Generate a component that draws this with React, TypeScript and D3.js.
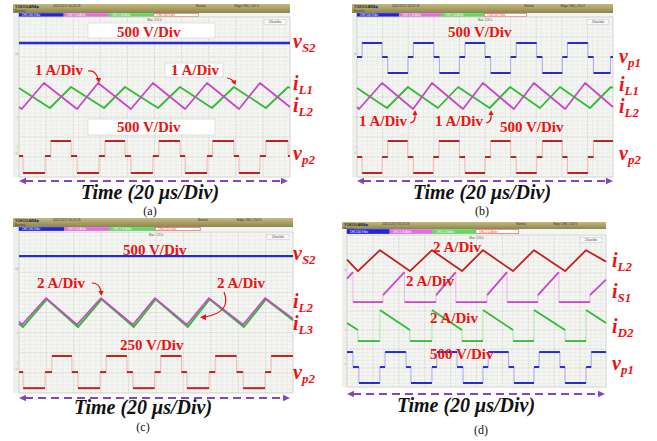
import React from 'react';
import * as d3 from 'd3';

type Pt = [number, number];

// ---------- data (x in divisions 0..10, y in divisions -4..4) ----------
// Panel (a)
const A_VS2: Pt[] = [[0, 2.7], [10, 2.7]];
const A_IL1: Pt[] = [[0, -0.5], [0.1, -0.6], [0.92, 0.7], [2.14, -0.6], [2.92, 0.7], [4.13, -0.6], [4.94, 0.7], [6.13, -0.6], [6.94, 0.7], [8.12, -0.6], [8.89, 0.7], [10, -0.5]];
const A_IL2: Pt[] = [[0, 0.45], [1.14, -0.55], [1.92, 0.5], [3.14, -0.55], [3.91, 0.5], [5.13, -0.55], [5.94, 0.5], [7.12, -0.55], [7.93, 0.5], [9.11, -0.55], [9.93, 0.5], [10, 0.45]];
const A_VP2_STEPS: Pt[] = [[0, -2.95], [0.15, -3.8], [0.96, -2.95], [1.17, -2.2], [1.92, -2.95], [2.14, -3.8], [2.95, -2.95], [3.17, -2.2], [3.91, -2.95], [4.13, -3.8], [4.94, -2.95], [5.16, -2.2], [5.94, -2.95], [6.13, -3.8], [6.94, -2.95], [7.14, -2.2], [7.93, -2.95], [8.12, -3.8], [8.89, -2.95], [9.11, -2.2], [9.93, -2.95]];

// Panel (b)
const B_VP1_STEPS: Pt[] = [[0, 2.0], [0.2, 2.7], [0.98, 2.0], [1.2, 1.2], [1.99, 2.0], [2.2, 2.7], [3.0, 2.0], [3.22, 1.2], [4.0, 2.0], [4.22, 2.7], [5.0, 2.0], [5.22, 1.2], [6.0, 2.0], [6.22, 2.7], [7.02, 2.0], [7.24, 1.2], [8.02, 2.0], [8.22, 2.7], [9.02, 2.0], [9.24, 1.2], [9.9, 2.0]];
const B_IL1: Pt[] = [[0, -0.5], [0.08, -0.6], [0.98, 0.7], [2.19, -0.6], [2.93, 0.7], [4.14, -0.6], [4.92, 0.7], [6.13, -0.6], [6.91, 0.7], [8.13, -0.6], [8.91, 0.7], [10, -0.5]];
const B_IL2: Pt[] = [[0, 0.45], [1.17, -0.55], [1.99, 0.5], [3.16, -0.55], [3.95, 0.5], [5.18, -0.55], [5.98, 0.5], [7.15, -0.55], [7.93, 0.5], [9.1, -0.55], [9.92, 0.5], [10, 0.45]];
const B_VP2_STEPS: Pt[] = [[0, -3.0], [0.2, -3.8], [0.98, -3.0], [1.2, -2.2], [1.98, -3.0], [2.2, -3.8], [2.98, -3.0], [3.2, -2.2], [4.0, -3.0], [4.22, -3.8], [5.0, -3.0], [5.22, -2.2], [6.0, -3.0], [6.22, -3.8], [7.02, -3.0], [7.24, -2.2], [8.02, -3.0], [8.22, -3.8], [9.02, -3.0], [9.24, -2.2]];

// Panel (c)
const C_VS2: Pt[] = [[0, 2.8], [10, 2.8]];
const C_IL2: Pt[] = [[0, -0.45], [0.11, -0.6], [0.99, 0.72], [2.12, -0.6], [2.99, 0.72], [4.16, -0.6], [4.96, 0.72], [6.13, -0.6], [6.93, 0.72], [8.18, -0.6], [8.98, 0.72], [10, -0.3]];
const C_IL3: Pt[] = [[0, -0.55], [0.14, -0.72], [1.02, 0.66], [2.15, -0.72], [3.02, 0.66], [4.19, -0.72], [4.99, 0.66], [6.16, -0.72], [6.96, 0.66], [8.21, -0.72], [9.01, 0.66], [10, -0.38]];
const C_VP2_STEPS: Pt[] = [[0, -2.96], [0.15, -3.76], [0.95, -2.96], [1.2, -2.16], [1.93, -2.96], [2.15, -3.76], [2.96, -2.96], [3.18, -2.16], [3.94, -2.96], [4.16, -3.76], [4.95, -2.96], [5.17, -2.16], [5.93, -2.96], [6.13, -3.76], [6.94, -2.96], [7.16, -2.16], [7.94, -2.96], [8.18, -3.76], [8.98, -2.96], [9.2, -2.16]];

// Panel (d)
const D_IL2: Pt[] = [[0, 2.7], [0.42, 2.1], [1.27, 3.2], [2.43, 2.1], [3.28, 3.2], [4.44, 2.1], [5.25, 3.2], [6.41, 2.1], [7.22, 3.2], [8.42, 2.1], [9.23, 3.2], [10, 2.6]];
const D_IS1: Pt[] = [[0, 1.7], [0.23, 2.05], [0.23, 0.47], [1.39, 0.47], [1.39, 0.84], [2.22, 2.05], [2.22, 0.47], [3.44, 0.47], [3.44, 0.84], [4.2, 2.05], [4.2, 0.47], [5.41, 0.47], [5.41, 0.84], [6.18, 2.05], [6.18, 0.47], [7.37, 0.47], [7.37, 0.84], [8.18, 2.05], [8.18, 0.47], [9.38, 0.47], [9.38, 0.84], [10, 1.65]];
const D_ID2: Pt[] = [[0, -0.63], [0.42, -1.0], [0.42, -1.58], [1.27, -1.58], [1.27, 0.05], [2.43, -1.0], [2.43, -1.58], [3.28, -1.58], [3.28, 0.05], [4.44, -1.0], [4.44, -1.58], [5.25, -1.58], [5.25, 0.05], [6.41, -1.0], [6.41, -1.58], [7.22, -1.58], [7.22, 0.05], [8.42, -1.0], [8.42, -1.58], [9.23, -1.58], [9.23, 0.05], [10, -0.63]];
const D_VP1_STEPS: Pt[] = [[0, -2.16], [0.23, -2.95], [0.46, -3.79], [1.27, -2.95], [1.47, -2.16], [2.28, -2.95], [2.47, -3.79], [3.28, -2.95], [3.47, -2.16], [4.25, -2.95], [4.48, -3.79], [5.25, -2.95], [5.45, -2.16], [6.24, -2.95], [6.45, -3.79], [7.22, -2.95], [7.42, -2.16], [8.22, -2.95], [8.42, -3.79], [9.23, -2.95], [9.43, -2.16]];

const TIME_LABEL = 'Time (20 μs/Div)';
const CAPTIONS = ['(a)', '(b)', '(c)', '(d)'];

// ---------- helpers ----------
function steps(s: Pt[]): Pt[] {
  const out: Pt[] = [];
  for (let i = 0; i < s.length; i++) {
    out.push([s[i][0], s[i][1]]);
    const nx = i + 1 < s.length ? s[i + 1][0] : 10;
    out.push([nx, s[i][1]]);
  }
  return out;
}

interface Frame {
  hx0: number; hx1: number; hy0: number; hy1: number; ry1: number;
  gx0: number; gx1: number; gy0: number; gy1: number;
  ay: number; ax0: number; ax1: number; tx: number; ty: number; cx: number; cy: number;
}

interface Trace { pts: Pt[]; color: string; faint: string; w: number; }

const SERIF = '"Liberation Serif", "Times New Roman", serif';
const RED = '#ee1111';

function TraceView({ t, x, y }: { t: Trace; x: any; y: any }) {
  const runs: Pt[][] = [];
  const faint: [Pt, Pt][] = [];
  let run: Pt[] = [t.pts[0]];
  for (let i = 1; i < t.pts.length; i++) {
    const p = t.pts[i], q = t.pts[i - 1];
    if (Math.abs(p[0] - q[0]) < 1e-9 && Math.abs(p[1] - q[1]) > 1e-9) {
      faint.push([q, p]);
      if (run.length > 1) runs.push(run);
      run = [p];
    } else if (Math.abs(p[0] - q[0]) < 1e-9) {
      continue;
    } else run.push(p);
  }
  if (run.length > 1) runs.push(run);
  const line = d3.line<Pt>().x(d => x(d[0])).y(d => y(d[1]));
  return (
    <g>
      {faint.map((s, i) => (
        <line key={'f' + i} x1={x(s[0][0])} x2={x(s[1][0])} y1={y(s[0][1])} y2={y(s[1][1])} stroke={t.faint} strokeWidth={1} />
      ))}
      {runs.map((r, i) => (
        <path key={'r' + i} d={line(r) || ''} fill="none" stroke={t.color} strokeWidth={t.w} strokeLinejoin="round" />
      ))}
    </g>
  );
}

function Scope({ f, traces, boxes, idx }: { f: Frame; traces: Trace[]; boxes: string[]; idx: number }) {
  const x = d3.scaleLinear().domain([0, 10]).range([f.gx0, f.gx1]);
  const y = d3.scaleLinear().domain([4, -4]).range([f.gy0, f.gy1]);
  const minorX = d3.range(0, 50).map(i => i / 5);
  const minorY = d3.range(0, 40).map(i => -4 + i / 5);
  const majorX = d3.range(1, 10);
  const majorY = d3.range(-3, 4);
  const bw = (f.gx1 - f.gx0) / 6.1;
  const boxFill = ['#2424e0', '#e070e0', '#66d466', '#ffffff'];
  const boxStroke = ['#2424e0', '#e070e0', '#66d466', '#e04848'];
  const boxText = ['#ffffff', '#ffffff', '#ffffff', '#e04848'];
  const chY = [2.1, -1.05, -2.55, -2.85];
  const hw = f.hx1 - f.hx0;
  return (
    <g>
      <defs>
        <linearGradient id={'hdr' + idx} x1="0" x2="0" y1="0" y2="1">
          <stop offset="0" stopColor="#c4ba80" />
          <stop offset="1" stopColor="#8e864c" />
        </linearGradient>
      </defs>
      <rect x={f.hx0} y={f.hy0} width={hw} height={f.hy1 - f.hy0} fill={`url(#hdr${idx})`} />
      <text x={f.hx0 + 2} y={f.hy0 + 3.6} fontSize={3.6} fontFamily="Arial, sans-serif" fontWeight="bold" fill="#222">YOKOGAWA</text>
      <text x={f.hx0 + 23} y={f.hy0 + 3.8} fontSize={4} fill="#1a3ad0">◆</text>
      <text x={f.hx0 + 40} y={f.hy0 + 3.4} fontSize={3} fontFamily="Arial, sans-serif" fill="#333">2021/12/17  00:25:19</text>
      <text x={f.hx0 + 2} y={f.hy0 + 7.9} fontSize={2.8} fontFamily="Arial, sans-serif" fill="#444">Running</text>
      <text x={f.hx0 + hw * 0.66} y={f.hy0 + 3.4} fontSize={3} fontFamily="Arial, sans-serif" fill="#333">Normal</text>
      <text x={f.hx0 + hw * 0.8} y={f.hy0 + 3.4} fontSize={3} fontFamily="Arial, sans-serif" fill="#333">Edge CH4 ∫ 150 V</text>
      <rect x={f.hx0} y={f.hy1} width={hw} height={f.ry1 - f.hy1} fill="#f4f4f4" />
      {boxes.map((b, i) => (
        <g key={i}>
          <rect x={f.gx0 + i * (bw + 0.5)} y={f.hy1 + 0.3} width={bw} height={f.ry1 - f.hy1 - 0.6} fill={boxFill[i]} stroke={boxStroke[i]} strokeWidth={0.6} />
          <text x={f.gx0 + i * (bw + 0.5) + 3} y={f.ry1 - 1} fontSize={2.8} fontFamily="Arial, sans-serif" fill={boxText[i]}>{b}</text>
        </g>
      ))}
      <rect x={f.hx0} y={f.ry1} width={f.gx0 - f.hx0} height={f.gy1 - f.ry1} fill="#eef0ec" />
      {chY.map((v, i) => (
        <text key={i} x={f.hx0 + 2} y={y(v)} fontSize={4} fill={boxStroke[i]}>◁</text>
      ))}
      <rect x={f.gx0} y={f.gy0} width={f.gx1 - f.gx0} height={f.gy1 - f.gy0} fill="#f5f6f3" stroke="#c8cac4" strokeWidth={0.8} />
      {minorX.map((v, i) => <line key={'mx' + i} x1={x(v)} x2={x(v)} y1={f.gy0} y2={f.gy1} stroke="#e2e4df" strokeWidth={0.5} />)}
      {minorY.map((v, i) => <line key={'my' + i} x1={f.gx0} x2={f.gx1} y1={y(v)} y2={y(v)} stroke="#e2e4df" strokeWidth={0.5} />)}
      {majorX.map((v, i) => <line key={'Mx' + i} x1={x(v)} x2={x(v)} y1={f.gy0} y2={f.gy1} stroke="#cdd0c9" strokeWidth={0.7} strokeDasharray="1,1" />)}
      {majorY.map((v, i) => <line key={'My' + i} x1={f.gx0} x2={f.gx1} y1={y(v)} y2={y(v)} stroke="#cdd0c9" strokeWidth={0.7} strokeDasharray="1,1" />)}
      <text x={(f.gx0 + f.gx1) / 2} y={f.gy0 + 3.5} fontSize={3} textAnchor="middle" fontFamily="Arial, sans-serif" fill="#555">Max: 125 k</text>
      <rect x={f.gx1 - 26} y={f.gy0 + 2.5} width={22} height={5} fill="#f8f8f8" stroke="#bbb" strokeWidth={0.4} />
      <text x={f.gx1 - 15} y={f.gy0 + 6.3} fontSize={3.3} textAnchor="middle" fontFamily="Arial, sans-serif" fill="#444">20us/div</text>
      {traces.map((t, i) => <TraceView key={i} t={t} x={x} y={y} />)}
      {/* time arrow */}
      <line x1={f.ax0 + 6} x2={f.ax1 - 6} y1={f.ay} y2={f.ay} stroke="#8645bf" strokeWidth={2} strokeDasharray="8,5" />
      <path d={`M${f.ax0},${f.ay} L${f.ax0 + 7},${f.ay - 3.2} L${f.ax0 + 7},${f.ay + 3.2} Z`} fill="#8645bf" />
      <path d={`M${f.ax1},${f.ay} L${f.ax1 - 7},${f.ay - 3.2} L${f.ax1 - 7},${f.ay + 3.2} Z`} fill="#8645bf" />
      <text x={f.tx} y={f.ty} fontSize={20} fontFamily={SERIF} fontWeight="bold" fontStyle="italic" textAnchor="middle" fill="#111">{TIME_LABEL}</text>
      <text x={f.cx} y={f.cy} fontSize={12} fontFamily={SERIF} textAnchor="middle" fill="#111">{CAPTIONS[idx]}</text>
    </g>
  );
}

function Sig({ x, y, main, sub }: { x: number; y: number; main: string; sub: string }) {
  return (
    <text x={x} y={y} fontFamily={SERIF} fontWeight="bold" fontStyle="italic" fill={RED} fontSize={20}>
      {main}
      <tspan fontSize={13} dy={4}>{sub}</tspan>
    </text>
  );
}

function Div({ x, y, s, size = 15 }: { x: number; y: number; s: string; size?: number }) {
  return (
    <text x={x} y={y} fontFamily={SERIF} fontWeight="bold" fill={RED} fontSize={size}>{s}</text>
  );
}

function Arr({ d, head }: { d: string; head: string }) {
  return (
    <g>
      <path d={d} fill="none" stroke={RED} strokeWidth={1.2} />
      <path d={head} fill={RED} />
    </g>
  );
}

const FA: Frame = { hx0: 13, hx1: 290, hy0: 4, hy1: 13, ry1: 17, gx0: 19, gx1: 290, gy0: 17, gy1: 177, ay: 181, ax0: 19, ax1: 288, tx: 150, ty: 199, cx: 150, cy: 215 };
const FB: Frame = { hx0: 352, hx1: 613, hy0: 4, hy1: 13, ry1: 17, gx0: 357, gx1: 613, gy0: 17, gy1: 177, ay: 181, ax0: 357, ax1: 613, tx: 482, ty: 199, cx: 482, cy: 215 };
const FC: Frame = { hx0: 13, hx1: 293, hy0: 218, hy1: 227, ry1: 231, gx0: 19, gx1: 293, gy0: 232, gy1: 393, ay: 398, ax0: 19, ax1: 290, tx: 143, ty: 414, cx: 143, cy: 431 };
const FD: Frame = { hx0: 342, hx1: 606, hy0: 222, hy1: 229, ry1: 234, gx0: 347, gx1: 606, gy0: 235, gy1: 387, ay: 394, ax0: 347, ax1: 605, tx: 466, ty: 412, cx: 481, cy: 434 };

const BLUE = '#2a2ad2';
const MAG = '#cc44cc';
const GRN = '#33bb33';
const DRED = '#c42020';

export default function App() {
  const boxesA = ['CH1 500 V/div', 'CH2 1.00 A/div', 'CH3 1.00 A/div', 'CH4 500 V/div'];
  const boxesC = ['CH1 500 V/div', 'CH2 2.00 A/div', 'CH3 2.00 A/div', 'CH4 250 V/div'];
  const boxesD = ['CH1 500 V/div', 'CH2 2.00 A/div', 'CH3 2.00 A/div', 'CH4 2.00 A/div'];
  return (
    <svg width={657} height={441} style={{ position: 'absolute', left: 0, top: 0, background: '#fff' }}>
      <rect x={0} y={0} width={657} height={441} fill="#fff" />
      {/* (a) */}
      <Scope f={FA} idx={0} boxes={boxesA} traces={[
        { pts: A_VS2, color: BLUE, faint: '#9a9af0', w: 2.4 },
        { pts: A_IL2, color: GRN, faint: '#a8e8a8', w: 1.8 },
        { pts: A_IL1, color: MAG, faint: '#f0b0f0', w: 1.8 },
        { pts: steps(A_VP2_STEPS), color: DRED, faint: '#f4b4b4', w: 2 },
      ]} />
      <rect x={88} y={23} width={127} height={15} fill="#fff" stroke="#dadada" strokeWidth={0.8} />
      <Div x={117} y={36.5} s="500 V/Div" />
      <Div x={35} y={75} s="1 A/Div" />
      <Arr d="M88,71 Q96,70 98,79" head="M95.5,78 L101,78 L99,83 Z" />
      <rect x={165} y={63} width={58} height={14} fill="#fff" stroke="#dadada" strokeWidth={0.8} />
      <Div x={171} y={75} s="1 A/Div" />
      <Arr d="M227,78 Q232,79 234,82" head="M231,81.5 L236,80 L235.5,85 Z" />
      <rect x={88} y={119} width={127} height={16} fill="#fff" stroke="#dadada" strokeWidth={0.8} />
      <Div x={117} y={132} s="500 V/Div" />
      <Sig x={293} y={48} main="v" sub="S2" />
      <Sig x={293} y={90} main="i" sub="L1" />
      <Sig x={293} y={112} main="i" sub="L2" />
      <Sig x={293} y={160} main="v" sub="p2" />

      {/* (b) */}
      <Scope f={FB} idx={1} boxes={boxesA} traces={[
        { pts: steps(B_VP1_STEPS), color: BLUE, faint: '#a8a8f0', w: 2 },
        { pts: B_IL2, color: GRN, faint: '#a8e8a8', w: 1.8 },
        { pts: B_IL1, color: MAG, faint: '#f0b0f0', w: 1.8 },
        { pts: steps(B_VP2_STEPS), color: DRED, faint: '#f4b4b4', w: 2 },
      ]} />
      <Div x={448} y={36.5} s="500 V/Div" />
      <Div x={359} y={126} s="1 A/Div" />
      <Arr d="M410,123 Q416,122 415,114" head="M412.5,115 L417.5,115 L415,110 Z" />
      <Div x={435} y={126} s="1 A/Div" />
      <Arr d="M486,123 Q492,122 491,114" head="M488.5,115 L493.5,115 L491,110 Z" />
      <Div x={500} y={132} s="500 V/Div" />
      <Sig x={619} y={63} main="v" sub="p1" />
      <Sig x={619} y={91} main="i" sub="L1" />
      <Sig x={619} y={113} main="i" sub="L2" />
      <Sig x={619} y={160} main="v" sub="p2" />

      {/* (c) */}
      <Scope f={FC} idx={2} boxes={boxesC} traces={[
        { pts: C_VS2, color: BLUE, faint: '#9a9af0', w: 2.4 },
        { pts: C_IL3, color: GRN, faint: '#a8e8a8', w: 2 },
        { pts: C_IL2, color: MAG, faint: '#f0b0f0', w: 1.6 },
        { pts: steps(C_VP2_STEPS), color: DRED, faint: '#f4b4b4', w: 2 },
      ]} />
      <Div x={123} y={255} s="500 V/Div" />
      <Div x={37} y={288} s="2 A/Div" />
      <Arr d="M92,283 Q100,283 101,292" head="M98.5,291 L103.5,291 L101.5,296 Z" />
      <Div x={217} y={288} s="2 A/Div" />
      <Arr d="M224,292 Q232,312 205,317" head="M206,314 L206,320 L200,317.5 Z" />
      <Div x={120} y={350} s="250 V/Div" />
      <Sig x={293} y={260} main="v" sub="S2" />
      <Sig x={293} y={308} main="i" sub="L2" />
      <Sig x={293} y={330} main="i" sub="L3" />
      <Sig x={293} y={379} main="v" sub="p2" />

      {/* (d) */}
      <Scope f={FD} idx={3} boxes={boxesD} traces={[
        { pts: D_IL2, color: DRED, faint: '#f4b4b4', w: 1.8 },
        { pts: D_IS1, color: MAG, faint: '#f0b4f0', w: 1.8 },
        { pts: D_ID2, color: GRN, faint: '#a8e8a8', w: 1.8 },
        { pts: steps(D_VP1_STEPS), color: BLUE, faint: '#a8a8f0', w: 2 },
      ]} />
      <Div x={433} y={252} s="2 A/Div" />
      <Div x={406} y={286} s="2 A/Div" />
      <Div x={430} y={323} s="2 A/Div" />
      <Div x={430} y={359} s="500 V/Div" />
      <Sig x={612} y={267} main="i" sub="L2" />
      <Sig x={612} y={298} main="i" sub="S1" />
      <Sig x={612} y={333} main="i" sub="D2" />
      <Sig x={612} y={370} main="v" sub="p1" />
    </svg>
  );
}
